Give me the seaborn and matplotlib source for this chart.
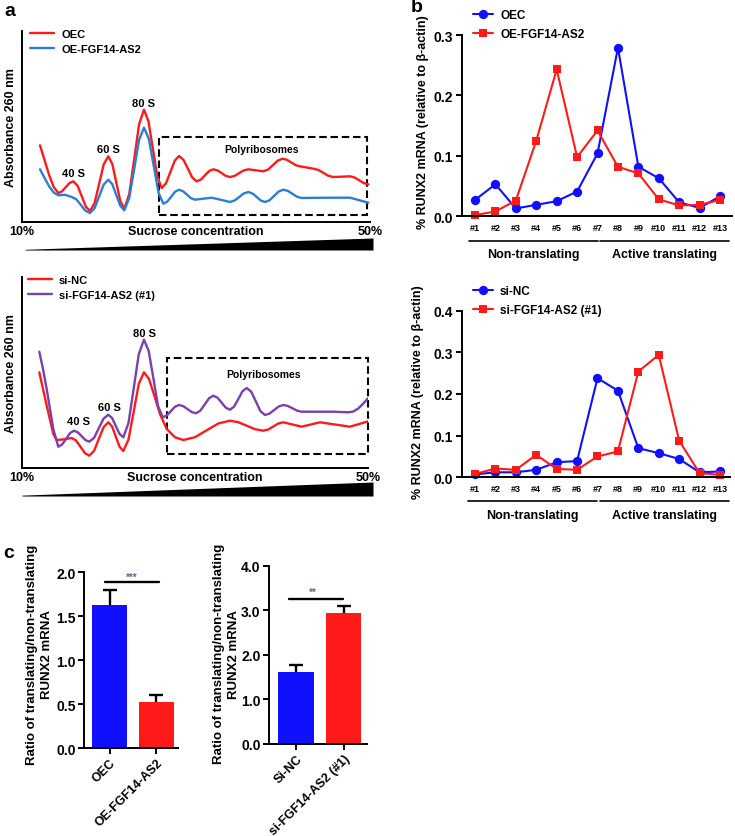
import numpy as np
import pandas as pd
import matplotlib
matplotlib.use("Agg")
import matplotlib.pyplot as plt
import seaborn as sns
from matplotlib.patches import Rectangle

sns.set_theme(style="ticks")
plt.rcParams['font.family'] = ['Liberation Sans', 'DejaVu Sans']
plt.rcParams['font.weight'] = 'bold'
plt.rcParams['axes.labelweight'] = 'bold'
plt.rcParams['axes.linewidth'] = 1.4
plt.rcParams['axes.edgecolor'] = 'black'
for key in ['text.color', 'axes.labelcolor', 'xtick.color', 'ytick.color']:
    plt.rcParams[key] = 'black'

# ---------------- datos ----------------
# a) perfiles de polisomas: posicion en el gradiente y absorbancia (u.a.)
sucrose_labels = ['10%', '50%']
sucrose_range = [10, 50]

oec_pos = [18, 22.6, 27.2, 31.7, 36.3, 40.1, 43.8, 47.6, 51.3, 55.5, 59.7, 63.8, 68, 72.6, 77.2, 81.7,
           86.3, 90.3, 94.3, 98.3, 102.3, 107.2, 112.2, 117.1, 122, 126.4, 130.9, 135.3, 139.7, 144,
           148.4, 152.7, 157, 161.4, 165.9, 170.3, 174.7, 178.9, 183, 187.2, 191.3, 195.5, 199.7, 203.8,
           208, 212.6, 217.2, 221.7, 226.3, 233.8, 241.3, 246.2, 251, 255.9, 260.7, 265, 269.4, 273.7,
           278, 284.7, 291.3, 296.3, 301.3, 306.3, 311.3, 319.7, 328, 332.6, 337.2, 341.7, 346.3]
oec_abs = [76.7, 61.7, 46.7, 35.0, 29.0, 30.7, 34.9, 39.0, 40.7, 36.4, 25.9, 15.3, 11.0, 19.0, 38.4, 57.7,
           65.7, 58.0, 39.5, 21.0, 13.3, 27.8, 62.8, 97.8, 112.3, 100.9, 73.2, 45.4, 34.0, 38.7,
           50.0, 61.3, 66.0, 62.3, 53.4, 44.4, 40.7, 42.5, 46.7, 51.0, 52.7, 51.6, 48.9, 46.1,
           45.0, 46.1, 48.9, 51.6, 52.7, 51.7, 50.7, 52.5, 57.0, 61.5, 63.3, 62.2, 59.5, 56.8,
           55.7, 54.5, 53.3, 52.1, 49.2, 46.2, 45.0, 45.3, 45.7, 44.5, 41.7, 38.9, 37.7]

oe_pos = [18, 22.6, 27.2, 31.7, 36.3, 43, 49.7, 54.3, 58.9, 63.4, 68, 72.6, 77.2, 81.7, 86.3, 90.3,
          94.3, 98.3, 102.3, 107.2, 112.2, 117.1, 122, 126.8, 131.7, 136.5, 141.3, 145.2, 149.2, 153.1,
          157, 161, 165, 169, 173, 181.4, 189.7, 198.9, 208, 212.6, 217.2, 221.7, 226.3, 230.5, 234.7,
          238.8, 243, 247.6, 252.2, 256.7, 261.3, 265.9, 270.5, 275.1, 279.7, 295.5, 311.3, 328,
          337.2, 346.3]
oe_abs = [52.7, 44.0, 35.5, 29.5, 26.7, 27.2, 25.0, 22.7, 17.0, 11.3, 9.0, 13.9, 25.7, 37.4, 42.3, 37.8,
          27.0, 16.2, 11.7, 23.8, 53.0, 82.2, 94.3, 83.2, 56.3, 29.4, 18.3, 20.3, 25.3, 30.3,
          32.3, 30.8, 27.3, 23.8, 22.3, 23.3, 24.3, 22.2, 20.0, 21.5, 25.0, 28.5, 30.0, 28.5, 25.0,
          21.5, 20.0, 21.8, 26.2, 30.5, 32.3, 31.1, 28.2, 25.2, 24.0, 24.2, 24.3, 24.3,
          21.8, 19.3]

sinc_pos = [17.3, 21, 24.7, 31.3, 34.7, 42.2, 49.7, 54.1, 58.5, 62.9, 67.3, 72.1, 76.8, 81.6, 86.3,
            90.1, 93.8, 97.6, 101.3, 106.5, 111.7, 116.8, 122, 127, 131.3, 138, 144.7, 153, 161.3,
            173, 184.7, 196.3, 208, 216.3, 224.7, 233, 241.3, 246.3, 251.3, 256.3, 261.3, 270.5,
            279.7, 288.8, 298, 313, 328, 337.2, 346.3]
sinc_abs = [95.7, 79, 62.3, 34, 28, 28.7, 30, 27.4, 21.2, 14.9, 12.3, 17.2, 29, 40.8, 45.7,
            41.5, 31.4, 21.2, 17, 28.5, 56.4, 84.2, 95.7, 89, 75.7, 54, 39, 30.7, 28,
            30.8, 37.7, 44.5, 47.3, 45.8, 42.3, 38.8, 37.3, 38.5, 41.5, 44.5, 45.7, 43.5,
            41.3, 43.5, 45.7, 43.5, 41.3, 44, 46.7]

sifgf_pos = [17.3, 21, 24.7, 31.3, 36.3, 40.2, 44.2, 48.1, 52, 55.8, 59.7, 63.5, 67.3, 72.1, 76.8,
             81.6, 86.3, 90.1, 93.8, 97.6, 101.3, 106.5, 111.7, 116.8, 122, 126.7, 131.4, 136, 140.7,
             144.8, 148.9, 152.9, 157, 161.3, 165.5, 169.8, 174, 178.3, 182.7, 187, 191.3, 195.5,
             199.7, 203.8, 208, 212.2, 216.4, 220.5, 224.7, 229.3, 233.9, 238.4, 243, 247.6, 252.2,
             256.7, 261.3, 265.9, 270.5, 275.1, 279.7, 295.5, 311.3, 326.3, 331.3, 336.3, 341.3, 346.3]
sifgf_abs = [116.3, 99, 79, 39, 21.3, 23.6, 29.3, 35, 37.3, 35.7, 31.8, 27.9, 26.3, 30.2, 39.8,
             49.4, 53.3, 50, 42, 34, 30.7, 45, 79.5, 114, 128.3, 117, 89.5, 62, 50.7,
             52.5, 56.9, 61.2, 63, 61.8, 58.9, 55.9, 54.7, 57.3, 63.5, 69.7, 72.3, 70.3,
             65.3, 60.3, 58.3, 61.5, 69.2, 76.8, 80, 76.1, 66.5, 56.9, 53, 54.5, 58,
             61.5, 63, 62, 59.7, 57.3, 56.3, 56.3, 56.3, 55.7, 56.5, 59.5, 64.5, 70]

# b) RUNX2 mRNA por fraccion (relativo a beta-actina)
fractions = ['#1', '#2', '#3', '#4', '#5', '#6', '#7', '#8', '#9', '#10', '#11', '#12', '#13']
oec_runx2 = [0.027, 0.053, 0.013, 0.019, 0.025, 0.041, 0.104, 0.279, 0.082, 0.063, 0.023, 0.014, 0.033]
oe_runx2 = [0.002, 0.008, 0.026, 0.125, 0.243, 0.098, 0.142, 0.082, 0.071, 0.028, 0.018, 0.019, 0.027]
sinc_runx2 = [0.007, 0.012, 0.012, 0.018, 0.036, 0.039, 0.238, 0.208, 0.070, 0.058, 0.044, 0.012, 0.014]
sifgf_runx2 = [0.008, 0.021, 0.018, 0.054, 0.020, 0.018, 0.050, 0.062, 0.254, 0.294, 0.088, 0.010, 0.006]

# c) ratio traduccion / no traduccion
groups_oe = ['OEC', 'OE-FGF14-AS2']
ratio_oe = [1.625, 0.526]
sem_oe = [0.177, 0.080]
groups_si = ['Si-NC', 'si-FGF14-AS2 (#1)']
ratio_si = [1.62, 2.94]
sem_si = [0.16, 0.15]

RED = '#ff1a1a'
BLUE_A = '#2a7fd4'
PURPLE = '#7b3fb0'
BLUE = '#1010ff'

W, H = 735, 837
fig = plt.figure(figsize=(W / 100, H / 100), dpi=100)


def px_axes(x0, y0, x1, y1):
    return fig.add_axes([x0 / W, 1 - y1 / H, (x1 - x0) / W, (y1 - y0) / H])


# --- Panel a: perfiles ---
def draw_profile(rect, curves, xmax, ymax, box, peaks, poly_xy, leg_anchor, wedge_rect):
    ax = px_axes(*rect)
    for label, pos, absorb, color in curves:
        sns.lineplot(x=pos, y=absorb, color=color, linewidth=1.7, sort=False,
                     estimator=None, label=label, ax=ax)
    ax.set_xlim(0, xmax)
    ax.set_ylim(0, ymax)
    ax.set_xticks([0, xmax], sucrose_labels)
    ax.set_yticks([])
    ax.tick_params(axis='x', length=0, pad=2, labelsize=9)
    sns.despine(ax=ax)
    ax.set_ylabel('Absorbance 260 nm', fontsize=9)
    ax.yaxis.set_label_coords(-0.014, 0.5)
    ax.text(0.5, -0.047, 'Sucrose concentration', transform=ax.transAxes,
            ha='center', va='center', fontsize=9)
    (bx0, by0), (bx1, by1) = box
    ax.add_patch(Rectangle((bx0, by0), bx1 - bx0, by1 - by0, fill=False, ec='black',
                           lw=1.5, ls=(0, (3.6, 1.8)), clip_on=False))
    ax.text(*poly_xy, 'Polyribosomes', ha='center', va='center', fontsize=7.5)
    for txt, (px, py) in zip(['40 S', '60 S', '80 S'], peaks):
        ax.text(px, py, txt, ha='center', va='center', fontsize=8)
    ax.legend(loc='upper left', bbox_to_anchor=leg_anchor, frameon=False, borderpad=0,
              borderaxespad=0, handlelength=2.2, handletextpad=0.6, labelspacing=0.45,
              prop=dict(size=8, weight='bold'))
    wax = px_axes(*wedge_rect)
    wax.fill_between(sucrose_range, [0, 0], [0.06, 1], color='black', lw=0)
    wax.set_xlim(*sucrose_range)
    wax.set_ylim(0, 1)
    wax.axis('off')


draw_profile((22, 32, 370, 223),
             [('OEC', oec_pos, oec_abs, RED), ('OE-FGF14-AS2', oe_pos, oe_abs, BLUE_A)],
             348, 191, ((137.3, 6.7), (344.7, 85)),
             [(51.3, 49.3), (86.3, 73.3), (122, 119)], (239.7, 72.7),
             (0.023, 1.01), (25, 239, 373, 251))

draw_profile((22, 278, 368, 469),
             [('si-NC', sinc_pos, sinc_abs, RED), ('si-FGF14-AS2 (#1)', sifgf_pos, sifgf_abs, PURPLE)],
             346, 191, ((144.7, 14), (346.3, 110)),
             [(56.3, 46.7), (87.3, 60.7), (122, 134.7)], (241.3, 94),
             (0.017, 1.01), (22, 483, 373, 497))


# --- Panel b: RUNX2 por fraccion ---
def draw_fractions(rect, series, ymax, xlim, leg_anchor, brackets, bracket_y, text_y, ylab_xy):
    ax = px_axes(*rect)
    for label, vals, color, marker, ms in series:
        df = pd.DataFrame({'fraction': fractions, 'value': vals})
        sns.lineplot(data=df, x='fraction', y='value', color=color, marker=marker,
                     markersize=ms, markeredgecolor=color, markeredgewidth=0,
                     linewidth=1.5, sort=False, errorbar=None, label=label,
                     clip_on=False, ax=ax)
    ax.set_xlim(*xlim)
    ax.set_ylim(0, ymax)
    ax.set_yticks(np.arange(0, ymax + 0.01, 0.1))
    ax.yaxis.set_major_formatter(matplotlib.ticker.FormatStrFormatter('%.1f'))
    ax.tick_params(axis='y', length=4, width=1.4, labelsize=10, pad=2)
    ax.tick_params(axis='x', length=0, labelsize=6.5, pad=5)
    sns.despine(ax=ax)
    ax.set_xlabel('')
    ax.set_ylabel('% RUNX2 mRNA (relative to β-actin)', fontsize=9)
    ax.yaxis.set_label_coords(*ylab_xy)
    trans = ax.get_xaxis_transform()
    for (x0, x1), txt in zip(brackets, ['Non-translating', 'Active translating']):
        ax.plot([x0, x1], [bracket_y, bracket_y], color='black', lw=1.2,
                transform=trans, clip_on=False)
        ax.text((x0 + x1) / 2, text_y, txt, transform=trans, ha='center',
                va='center', fontsize=9)
    ax.legend(loc='upper left', bbox_to_anchor=leg_anchor, frameon=False, borderpad=0,
              borderaxespad=0, handlelength=1.7, handletextpad=0.6, labelspacing=0.6,
              prop=dict(size=8.5, weight='bold'))


draw_fractions((461.7, 36, 731.7, 217.3),
               [('OEC', oec_runx2, BLUE, 'o', 6.7), ('OE-FGF14-AS2', oe_runx2, RED, 's', 5.6)],
               0.3, (-0.65, 12.57), (0.042, 1.143),
               [(-0.3, 6.03), (6.13, 12.45)], -0.135, -0.208, (-0.121, 0.525))

draw_fractions((461.7, 311.7, 730, 478.3),
               [('si-NC', sinc_runx2, BLUE, 'o', 6.7), ('si-FGF14-AS2 (#1)', sifgf_runx2, RED, 's', 5.6)],
               0.4, (-0.65, 12.49), (0.042, 1.154),
               [(-0.33, 5.98), (6.13, 12.45)], -0.142, -0.226, (-0.14, 0.52))


# --- Panel c: barras ---
def draw_ratio(rect, groups, ratios, sems, ymax, step, xlim, sig, stars, ylab_xy):
    ax = px_axes(*rect)
    sns.barplot(x=groups, y=ratios, hue=groups, palette=[BLUE, RED], width=0.735,
                saturation=1, legend=False, errorbar=None, linewidth=0, ax=ax)
    eb = ax.errorbar(groups, ratios, yerr=[[0] * len(sems), sems], fmt='none', ecolor='black',
                     elinewidth=1.7, capsize=5, capthick=1.7, zorder=3)
    for cap in eb.lines[1]:
        if np.allclose(cap.get_ydata(), ratios):
            cap.set_visible(False)
    ax.set_xlim(*xlim)
    ax.set_ylim(0, ymax)
    ax.set_yticks(np.arange(0, ymax + 0.01, step))
    ax.yaxis.set_major_formatter(matplotlib.ticker.FormatStrFormatter('%.1f'))
    ax.tick_params(axis='both', length=4, width=1.4, labelsize=10, pad=2)
    plt.setp(ax.get_xticklabels(), rotation=45, ha='right', rotation_mode='anchor', fontsize=9)
    sns.despine(ax=ax)
    ax.set_ylabel('Ratio of translating/non-translating\nRUNX2 mRNA', fontsize=9.5, linespacing=1.35)
    ax.yaxis.set_label_coords(*ylab_xy)
    (x0, x1, y), (sx, sy) = sig
    ax.plot([x0, x1], [y, y], color='black', lw=1.7)
    ax.text(sx, sy, stars, ha='center', va='center', fontsize=7, color='#5a6a8a')


draw_ratio((84, 573.3, 178.3, 749.3), groups_oe, ratio_oe, sem_oe, 2.0, 0.5,
           (-0.545, 1.47), ((-0.096, 1.058, 1.886), (0.47, 1.95)), '***', (-0.329, 0.536))
draw_ratio((269, 566.7, 366.7, 745), groups_si, ratio_si, sem_si, 4.0, 1.0,
           (-0.566, 1.48), ((-0.14, 0.99, 3.26), (0.36, 3.41)), '**', (-0.297, 0.51))

fig.text(4 / W, 1 - 11 / H, 'a', fontsize=14, ha='left', va='center')
fig.text(411 / W, 1 - 8 / H, 'b', fontsize=14, ha='left', va='center')
fig.text(3 / W, 1 - 554 / H, 'c', fontsize=14, ha='left', va='center')

fig.savefig('out.png', dpi=100)
